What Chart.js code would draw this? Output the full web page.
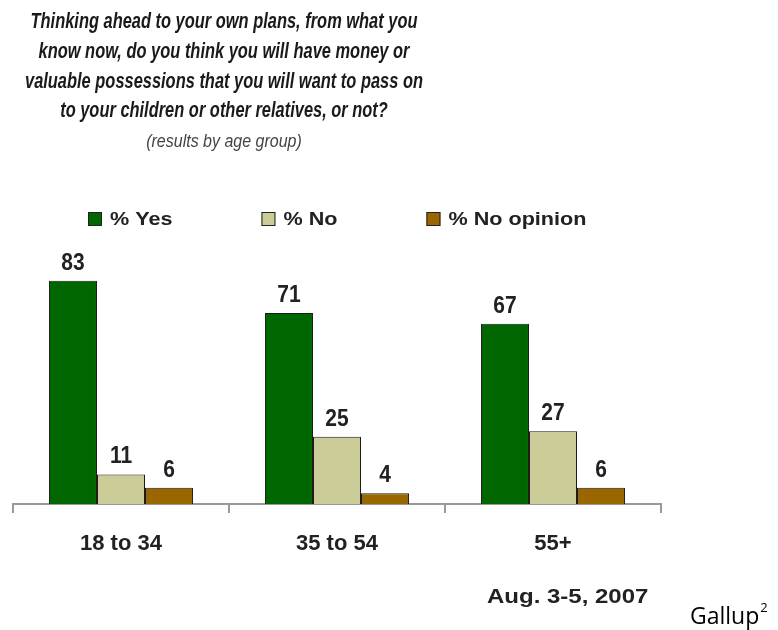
<!DOCTYPE html>
<html>
<head>
<meta charset="utf-8">
<script src="https://cdn.jsdelivr.net/npm/chart.js@4.4.0/dist/chart.umd.min.js"></script>
<style>
  html, body { margin: 0; padding: 0; background: #fff; }
</style>
</head>
<body>
<canvas id="ageChart" width="778" height="630"></canvas>
<script>
// Data
const ageGroups = ['18 to 34', '35 to 54', '55+'];
const yesValues = [83, 71, 67];
const noValues = [11, 25, 27];
const noOpinionValues = [6, 4, 6];
const seriesNames = ['% Yes', '% No', '% No opinion'];
const seriesColors = ['#006600', '#CCCC99', '#996600'];

const titleLines = [
  'Thinking ahead to your own plans, from what you',
  'know now, do you think you will have money or',
  'valuable possessions that you will want to pass on',
  'to your children or other relatives, or not?'
];
const subtitle = '(results by age group)';
const dateNote = 'Aug. 3-5, 2007';
const sourceNote = 'Gallup';

// draw text with optional stretch (the original's type is blown up a bit)
function drawText(ctx, txt, x, y, o) {
  ctx.save();
  ctx.font = o.font;
  ctx.fillStyle = o.color || '#222';
  ctx.textAlign = o.align || 'left';
  ctx.textBaseline = 'alphabetic';
  ctx.translate(x, y);
  ctx.scale(o.sx || 1, o.sy || 1);
  ctx.fillText(txt, 0, 0);
  ctx.restore();
}

const decorations = {
  id: 'decorations',
  afterDraw(chart) {
    const ctx = chart.ctx;

    // title block
    const titleFont = 'italic bold 15px "Liberation Sans", Arial, sans-serif';
    ctx.font = titleFont;
    const sx = 398 / ctx.measureText(titleLines[2]).width;
    const baselines = [28, 58, 88, 117];
    titleLines.forEach((line, i) => {
      drawText(ctx, line, 224, baselines[i], { font: titleFont, align: 'center', sx, sy: 1.45, color: '#1a1a1a' });
    });
    drawText(ctx, subtitle, 224, 147, {
      font: 'italic 16px "Liberation Sans", Arial, sans-serif', align: 'center', sy: 1.2, color: '#444'
    });

    // legend
    const legendFont = 'bold 18px "Liberation Sans", Arial, sans-serif';
    ctx.font = legendFont;
    let lx = 88;
    chart.data.datasets.forEach(ds => {
      ctx.save();
      ctx.fillStyle = ds.backgroundColor;
      ctx.strokeStyle = '#222';
      ctx.lineWidth = 1;
      ctx.fillRect(lx, 212, 14, 14);
      ctx.strokeRect(lx + 0.5, 212.5, 13, 13);
      ctx.restore();
      drawText(ctx, ds.label, lx + 22, 225, { font: legendFont, sx: 1.2 });
      ctx.font = legendFont;
      lx += 22 + ctx.measureText(ds.label).width * 1.2 + 89;
    });

    // value labels above bars
    const valueFont = 'bold 20px "Liberation Sans", Arial, sans-serif';
    chart.data.datasets.forEach((ds, i) => {
      chart.getDatasetMeta(i).data.forEach((bar, j) => {
        drawText(ctx, String(ds.data[j]), bar.x, bar.y - 11, { font: valueFont, align: 'center', sx: 1.05, sy: 1.15 });
      });
    });

    // footer notes
    drawText(ctx, dateNote, 487, 603, { font: 'bold 20px "Liberation Sans", Arial, sans-serif', sx: 1.2 });
    const srcFont = '23px "Open Sans", sans-serif';
    drawText(ctx, sourceNote, 690, 624, { font: srcFont, color: '#000' });
    ctx.font = srcFont;
    const gw = ctx.measureText(sourceNote).width;
    drawText(ctx, '2', 690 + gw + 1, 612, { font: '13px "Open Sans", sans-serif', color: '#000' });
  }
};

const ctx = document.getElementById('ageChart').getContext('2d');
new Chart(ctx, {
  type: 'bar',
  data: {
    labels: ageGroups,
    datasets: [yesValues, noValues, noOpinionValues].map((vals, i) => ({
      label: seriesNames[i],
      data: vals,
      backgroundColor: seriesColors[i],
      borderColor: '#1a1a1a',
      borderWidth: 1,
      categoryPercentage: 0.667,
      barPercentage: 1.0
    }))
  },
  options: {
    responsive: false,
    animation: false,
    devicePixelRatio: 1,
    layout: { padding: { left: 13, right: 117, top: 235, bottom: 0 } },
    plugins: {
      legend: { display: false },
      tooltip: { enabled: false }
    },
    scales: {
      y: { display: false, min: 0, max: 100 },
      x: {
        afterFit: scale => { scale.height = 126; },
        border: { color: '#999', width: 2 },
        grid: { drawOnChartArea: false, tickLength: 9, color: '#999', lineWidth: 2, offset: true },
        ticks: {
          padding: 18,
          color: '#222',
          font: { family: '"Liberation Sans", Arial, sans-serif', size: 22, weight: 'bold' }
        }
      }
    }
  },
  plugins: [decorations]
});
</script>
</body>
</html>
